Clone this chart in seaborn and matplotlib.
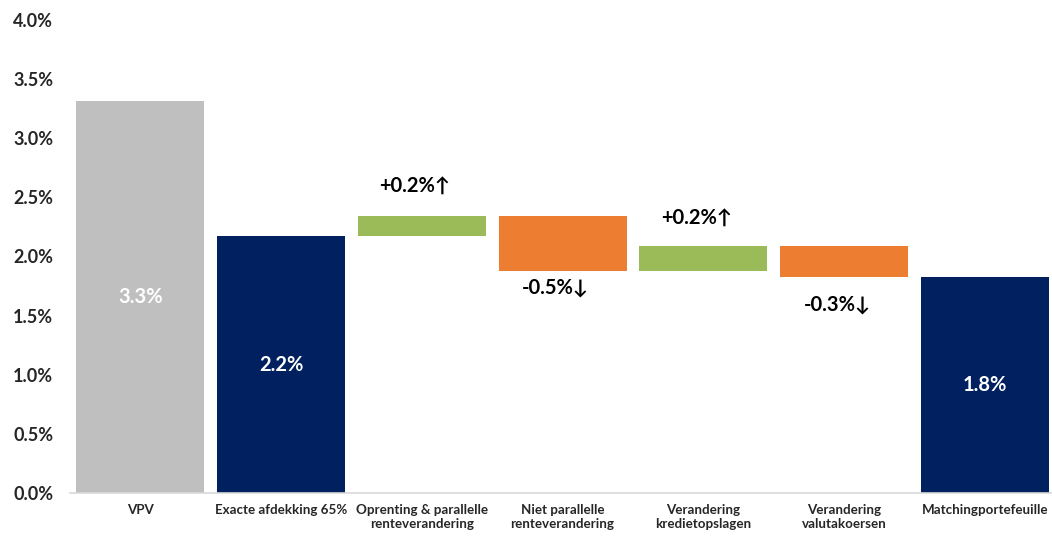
import matplotlib
matplotlib.use("Agg")
import matplotlib.pyplot as plt
import seaborn as sns
import numpy as np

categories = ["VPV", "Exacte afdekking 65%", "Oprenting & parallelle\nrenteverandering",
              "Niet parallelle\nrenteverandering", "Verandering\nkredietopslagen",
              "Verandering\nvalutakoersen", "Matchingportefeuille"]
# bar bottoms and heights (percent)
bottoms = [0.0, 0.0, 2.17, 2.34, 1.88, 2.09, 0.0]
heights = [3.31, 2.17, 0.17, -0.46, 0.21, -0.26, 1.83]
kinds = ["start", "total", "up", "down", "up", "down", "total"]
labels = ["3.3%", "2.2%", "+0.2%↑", "-0.5%↓", "+0.2%↑", "-0.3%↓", "1.8%"]
label_offsets = [0, 0, 0.26, -0.14, 0.24, -0.24, 0]
yticks = [0.0, 0.5, 1.0, 1.5, 2.0, 2.5, 3.0, 3.5, 4.0]

colors = {"start": "#BFBFBF", "total": "#002060", "up": "#9BBB59", "down": "#ED7D31"}

sns.set_theme(style="white")
plt.rcParams["font.family"] = ["Lato", "DejaVu Sans"]

fig = plt.figure(figsize=(10.52, 5.37), dpi=100)
ax = fig.add_axes([0.0665, 0.082, 0.9365, 0.881])

sns.barplot(x=categories, y=heights, bottom=bottoms, color="#BFBFBF", width=0.91,
            saturation=1, ax=ax, linewidth=0)
for p, k in zip(ax.patches, kinds):
    p.set_facecolor(colors[k])

for i, (b, h, k, lab, off) in enumerate(zip(bottoms, heights, kinds, labels, label_offsets)):
    if k in ("start", "total"):
        ax.text(i, b + h / 2, lab, ha="center", va="center", color="white",
                fontsize=14.5, fontweight="bold")
    else:
        ax.text(i - 0.05, b + h + off, lab, ha="center", va="center", color="black",
                fontsize=14.5, fontweight="bold", family=["Lato", "DejaVu Sans"])

ax.set_ylim(0, 4.0)
ax.set_xlim(-0.5, 6.5)
ax.set_yticks(yticks)
ax.set_yticklabels([f"{v:.1f}%" for v in yticks], fontsize=13, fontweight="bold", color="#262626")
ax.tick_params(axis="x", labelsize=9.6, pad=8, colors="#262626")
for t in ax.get_xticklabels():
    t.set_fontweight("bold")
ax.tick_params(axis="y", pad=12, length=0)
ax.tick_params(axis="x", length=0)
for s in ["top", "right", "left"]:
    ax.spines[s].set_visible(False)
ax.spines["bottom"].set_color("#D9D9D9")
ax.spines["bottom"].set_linewidth(1.2)
ax.grid(False)

fig.savefig("out.png", dpi=100)
